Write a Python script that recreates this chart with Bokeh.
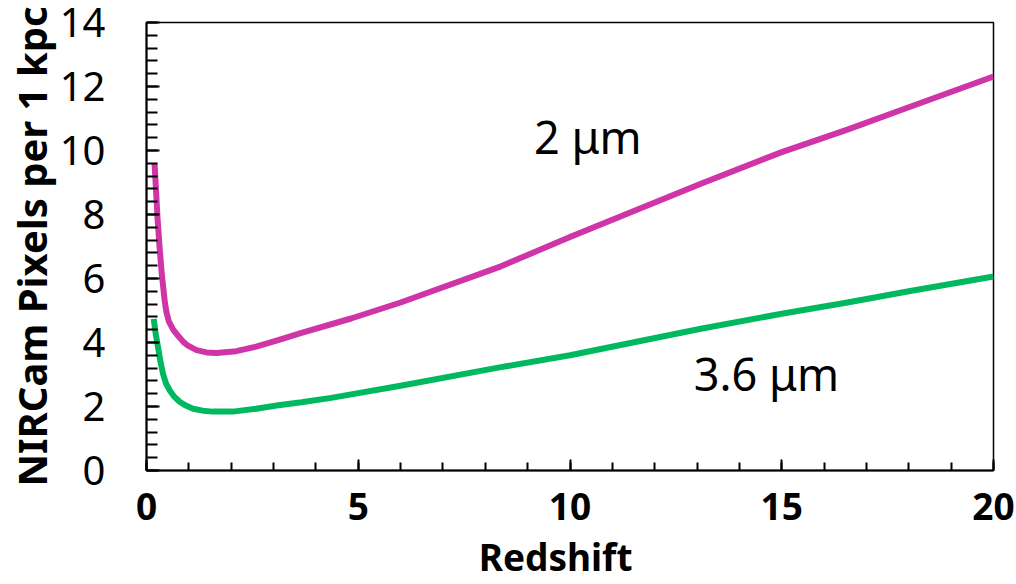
from bokeh.plotting import figure
from bokeh.models import Range1d, SingleIntervalTicker, Label
from bokeh.embed import file_html
from bokeh.resources import INLINE

# Data
redshift_2um = [0.19, 0.26, 0.31, 0.36, 0.43, 0.47, 0.53, 0.63, 0.75, 0.87, 0.98, 1.18, 1.42,
                1.65, 2.12, 2.59, 3.07, 3.66, 4.83, 6.00, 8.37, 10.0, 13.09, 15.0, 16.55, 18.0, 20.0]
pixels_2um = [9.60, 7.90, 6.95, 6.15, 5.30, 4.95, 4.65, 4.40, 4.20, 4.02, 3.90, 3.76, 3.69,
              3.67, 3.73, 3.87, 4.06, 4.30, 4.75, 5.25, 6.38, 7.30, 8.96, 9.95, 10.65, 11.35, 12.31]

redshift_36um = [0.17, 0.22, 0.28, 0.33, 0.39, 0.46, 0.55, 0.66, 0.79, 0.94, 1.10, 1.33, 1.57,
                 2.04, 2.59, 3.07, 3.66, 4.36, 6.00, 8.37, 10.0, 13.09, 15.0, 16.55, 18.0, 20.0]
pixels_36um = [4.74, 4.25, 3.80, 3.40, 3.02, 2.72, 2.50, 2.30, 2.14, 2.02, 1.93, 1.87, 1.84,
               1.84, 1.93, 2.03, 2.13, 2.27, 2.65, 3.23, 3.60, 4.43, 4.90, 5.25, 5.60, 6.06]

label_2um = "2 μm"
label_36um = "3.6 μm"
x_title = "Redshift"
y_title = "NIRCam Pixels per 1 kpc"

FONT = "Noto Sans"

p = figure(width=1016, height=584, output_backend="svg", toolbar_location=None,
           x_range=Range1d(0, 20), y_range=Range1d(0, 14),
           min_border_left=145, min_border_right=23, min_border_top=22, min_border_bottom=114)
p.background_fill_color = "white"
p.border_fill_color = "white"
p.xgrid.visible = False
p.ygrid.visible = False
p.outline_line_color = "black"
p.outline_line_width = 1.5

p.line(redshift_2um, pixels_2um, line_color="#D035A8", line_width=6, line_join="round")
p.line(redshift_36um, pixels_36um, line_color="#00B95F", line_width=6, line_join="round")

# x axis
xa = p.xaxis[0]
xa.ticker = SingleIntervalTicker(interval=5, num_minor_ticks=5)
xa.axis_line_width = 2
xa.major_tick_line_width = 2
xa.minor_tick_line_width = 2
xa.major_tick_in = 11
xa.major_tick_out = 0
xa.minor_tick_in = 8
xa.minor_tick_out = 0
xa.major_label_text_font = FONT
xa.major_label_text_font_style = "bold"
xa.major_label_text_font_size = "37px"
xa.major_label_text_color = "black"
xa.major_label_standoff = 22
xa.axis_label = x_title + "\u00a0\u00a0\u00a0"
xa.axis_label_text_font = FONT
xa.axis_label_text_font_style = "bold"
xa.axis_label_text_font_size = "37px"
xa.axis_label_text_color = "black"
xa.axis_label_standoff = 8

# y axis
ya = p.yaxis[0]
ya.ticker = SingleIntervalTicker(interval=2, num_minor_ticks=5)
ya.axis_line_width = 2
ya.major_tick_line_width = 2
ya.minor_tick_line_width = 2
ya.major_tick_in = 13
ya.major_tick_out = 0
ya.minor_tick_in = 11
ya.minor_tick_out = 0
ya.major_label_text_font = FONT
ya.major_label_text_font_style = "normal"
ya.major_label_text_font_size = "40px"
ya.major_label_text_color = "black"
ya.major_label_standoff = 41
ya.axis_label = y_title
ya.axis_label_text_font = FONT
ya.axis_label_text_font_style = "bold"
ya.axis_label_text_font_size = "40px"
ya.axis_label_text_color = "black"
ya.axis_label_standoff = -2

p.add_layout(Label(x=9.15, y=10.45, text=label_2um, text_font=FONT, text_font_size="45px",
                   text_color="black", text_baseline="middle"))
p.add_layout(Label(x=12.92, y=3.02, text=label_36um, text_font=FONT, text_font_size="45px",
                   text_color="black", text_baseline="middle"))

open("out.html", "w").write(file_html(p, INLINE))
